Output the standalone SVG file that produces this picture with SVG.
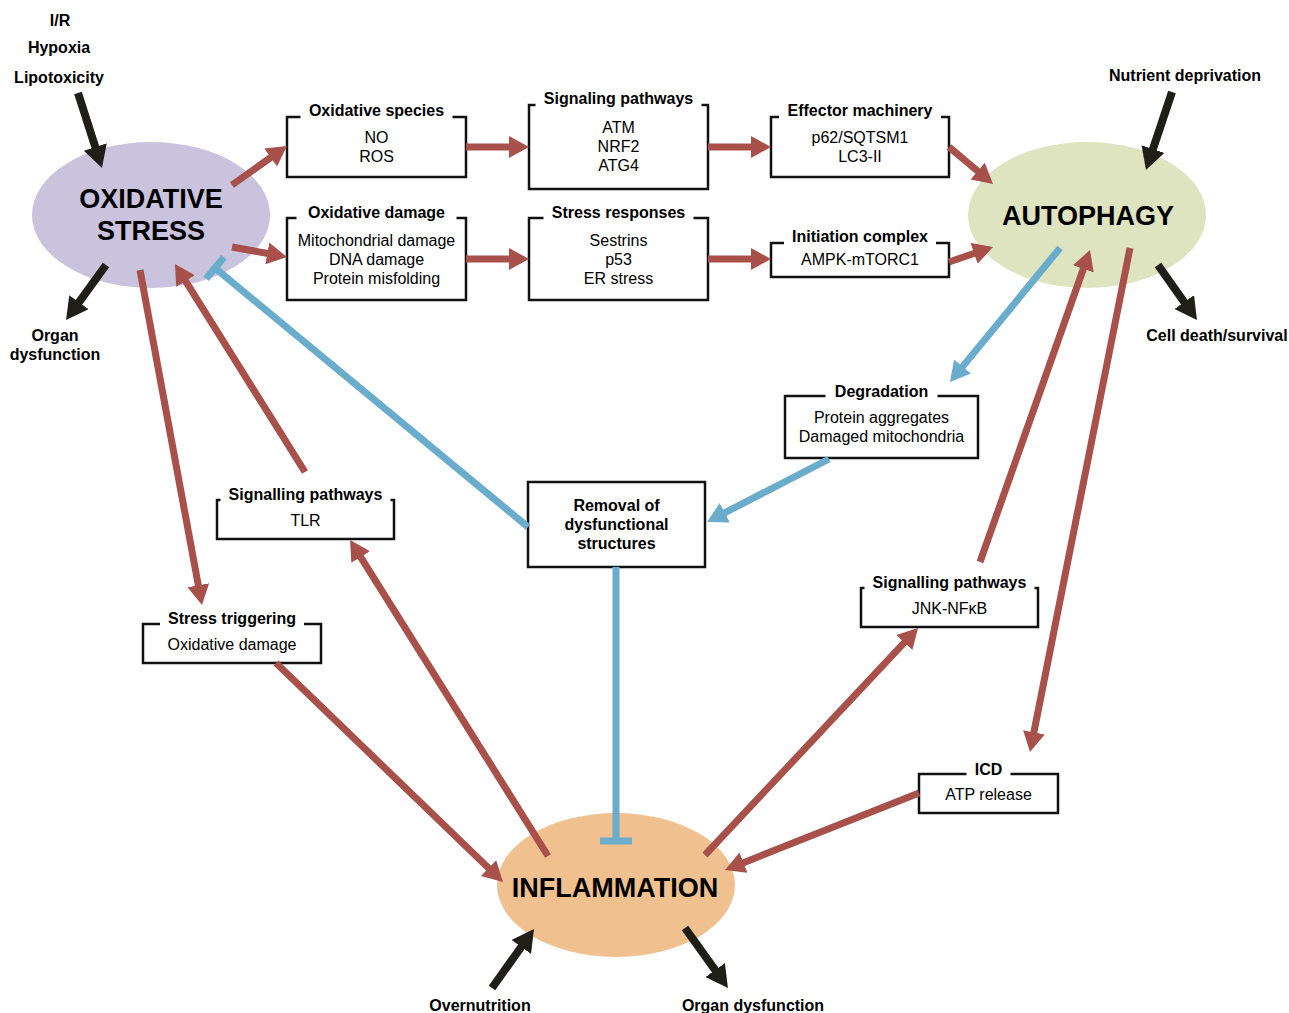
<svg xmlns="http://www.w3.org/2000/svg" width="1289" height="1013" viewBox="0 0 1289 1013">
<defs>
<style>
text{font-family:"Liberation Sans",Arial,sans-serif;fill:#000}
.t{font-size:16px;font-weight:bold;text-anchor:middle}
.b{font-size:16px;text-anchor:middle}
.big{font-size:27px;font-weight:bold;text-anchor:middle}
.lab{font-size:16px;font-weight:bold;text-anchor:middle}
.box{fill:none;stroke:#111;stroke-width:2.5}
.red{stroke:#a8504a;stroke-width:7;fill:none}
.blue{stroke:#6aaccb;stroke-width:7;fill:none}
.blk{stroke:#1f1f17;stroke-width:8;fill:none}
</style>
<marker id="hr" markerUnits="userSpaceOnUse" markerWidth="22" markerHeight="24" refX="2" refY="11" orient="auto"><path d="M0,0 L20,11 L0,22 z" fill="#a8504a"/></marker>
<marker id="hb" markerUnits="userSpaceOnUse" markerWidth="22" markerHeight="24" refX="2" refY="11" orient="auto"><path d="M0,0 L20,11 L0,22 z" fill="#6aaccb"/></marker>
<marker id="hk" markerUnits="userSpaceOnUse" markerWidth="24" markerHeight="26" refX="2" refY="12" orient="auto"><path d="M0,0 L22,12 L0,24 z" fill="#1f1f17"/></marker>
</defs>
<rect width="1289" height="1013" fill="#fff"/>

<g id="oxidative-stress"><ellipse cx="151" cy="215" rx="119" ry="73" fill="#c9c3de"/><text class="big" x="151" y="208">OXIDATIVE</text><text class="big" x="151" y="240">STRESS</text></g>
<g id="autophagy"><ellipse cx="1087" cy="215" rx="119" ry="73" fill="#dde4bf"/><text class="big" x="1088" y="225">AUTOPHAGY</text></g>
<g id="inflammation"><ellipse cx="616" cy="885" rx="119" ry="72" fill="#f0c08f"/><text class="big" x="615" y="897">INFLAMMATION</text></g>

<g id="inputs">
<text class="lab" x="60" y="26">I/R</text>
<text class="lab" x="59" y="53">Hypoxia</text>
<text class="lab" x="59" y="83">Lipotoxicity</text>
<text class="lab" x="55" y="341">Organ</text>
<text class="lab" x="55" y="360">dysfunction</text>
<text class="lab" x="1185" y="81">Nutrient deprivation</text>
<text class="lab" x="1217" y="341">Cell death/survival</text>
<text class="lab" x="480" y="1011">Overnutrition</text>
<text class="lab" x="753" y="1011">Organ dysfunction</text>
</g>

<g id="box-oxidative-species"><path class="box" d="M300.5 117 H287 V177 H466 V117 H452.5"/><text class="t" x="376.5" y="116">Oxidative species</text><text class="b" x="376.5" y="143">NO</text><text class="b" x="376.5" y="162">ROS</text></g>
<g id="box-signaling"><path class="box" d="M535.5 105 H529 V189 H708 V105 H701.5"/><text class="t" x="618.5" y="104">Signaling pathways</text><text class="b" x="618.5" y="133">ATM</text><text class="b" x="618.5" y="152">NRF2</text><text class="b" x="618.5" y="171">ATG4</text></g>
<g id="box-oxidative-damage"><path class="box" d="M296.5 218 H287 V300 H466 V218 H456.5"/><text class="t" x="376.5" y="218">Oxidative damage</text><text class="b" x="376.5" y="246">Mitochondrial damage</text><text class="b" x="376.5" y="265">DNA damage</text><text class="b" x="376.5" y="284">Protein misfolding</text></g>
<g id="box-stress-responses"><path class="box" d="M543.5 218 H529 V300 H708 V218 H693.5"/><text class="t" x="618.5" y="218">Stress responses</text><text class="b" x="618.5" y="246">Sestrins</text><text class="b" x="618.5" y="265">p53</text><text class="b" x="618.5" y="284">ER stress</text></g>
<g id="box-effector"><path class="box" d="M779 117 H771 V177 H949 V117 H941"/><text class="t" x="860" y="116">Effector machinery</text><text class="b" x="860" y="143">p62/SQTSM1</text><text class="b" x="860" y="162">LC3-II</text></g>
<g id="box-initiation"><path class="box" d="M784 243 H771 V277 H949 V243 H936"/><text class="t" x="860" y="242">Initiation complex</text><text class="b" x="860" y="265">AMPK-mTORC1</text></g>
<g id="box-degradation"><path class="box" d="M825.5 396 H785 V458 H978 V396 H937.5"/><text class="t" x="881.5" y="397">Degradation</text><text class="b" x="881.5" y="423">Protein aggregates</text><text class="b" x="881.5" y="442">Damaged mitochondria</text></g>
<g id="box-removal"><rect class="box" x="528" y="482" width="177" height="85"/><text class="t" x="616.5" y="511">Removal of</text><text class="t" x="616.5" y="530">dysfunctional</text><text class="t" x="616.5" y="549">structures</text></g>
<g id="box-tlr"><path class="box" d="M220.5 500 H217 V539 H394 V500 H390.5"/><text class="t" x="305.5" y="500">Signalling pathways</text><text class="b" x="305.5" y="526">TLR</text></g>
<g id="box-stress-triggering"><path class="box" d="M160 624 H143 V663 H321 V624 H304"/><text class="t" x="232" y="624">Stress triggering</text><text class="b" x="232" y="650">Oxidative damage</text></g>
<g id="box-jnk"><path class="box" d="M864.5 588 H861 V627 H1038 V588 H1034.5"/><text class="t" x="949.5" y="588">Signalling pathways</text><text class="b" x="949.5" y="614">JNK-NFκB</text></g>
<g id="box-icd"><path class="box" d="M966.5 774 H919 V813 H1058 V774 H1010.5"/><text class="t" x="988.5" y="775">ICD</text><text class="b" x="988.5" y="800">ATP release</text></g>

<g id="connectors">
<line class="red" x1="232" y1="185" x2="272.3" y2="156.4" marker-end="url(#hr)"/>
<line class="red" x1="232" y1="247" x2="269.3" y2="253.8" marker-end="url(#hr)"/>
<line class="red" x1="466" y1="147" x2="511" y2="147" marker-end="url(#hr)"/>
<line class="red" x1="466" y1="259" x2="511" y2="259" marker-end="url(#hr)"/>
<line class="red" x1="708" y1="147" x2="753" y2="147" marker-end="url(#hr)"/>
<line class="red" x1="708" y1="259" x2="753" y2="259" marker-end="url(#hr)"/>
<line class="red" x1="949" y1="147" x2="979.2" y2="172.4" marker-end="url(#hr)"/>
<line class="red" x1="949" y1="262" x2="976" y2="252.8" marker-end="url(#hr)"/>
<line class="red" x1="305" y1="472" x2="184.5" y2="279.3" marker-end="url(#hr)"/>
<line class="red" x1="140" y1="270" x2="198.7" y2="587.3" marker-end="url(#hr)"/>
<line class="red" x1="276" y1="663" x2="490" y2="869.5" marker-end="url(#hr)"/>
<line class="red" x1="548" y1="856" x2="359.6" y2="555.3" marker-end="url(#hr)"/>
<line class="red" x1="705" y1="855" x2="905.7" y2="641.1" marker-end="url(#hr)"/>
<line class="red" x1="980" y1="562" x2="1084" y2="267" marker-end="url(#hr)"/>
<line class="red" x1="1130" y1="248" x2="1033.5" y2="734.3" marker-end="url(#hr)"/>
<line class="red" x1="919" y1="793" x2="741.7" y2="863.4" marker-end="url(#hr)"/>
<line class="blue" x1="1060" y1="248" x2="961.4" y2="368.1" marker-end="url(#hb)"/>
<line class="blue" x1="829" y1="459" x2="723" y2="513.7" marker-end="url(#hb)"/>
<line class="blue" x1="528" y1="527" x2="215" y2="268"/>
<line class="blue" x1="223.9" y1="257.2" x2="206.1" y2="278.8"/>
<line class="blue" x1="616" y1="567" x2="616" y2="841"/>
<line class="blue" x1="600" y1="841" x2="632" y2="841"/>
<line class="blk" x1="78" y1="93" x2="95.9" y2="148.9" marker-end="url(#hk)"/>
<line class="blk" x1="106" y1="265" x2="77.8" y2="303.8" marker-end="url(#hk)"/>
<line class="blk" x1="1172" y1="92" x2="1152.3" y2="151" marker-end="url(#hk)"/>
<line class="blk" x1="1158" y1="265" x2="1185.4" y2="303.7" marker-end="url(#hk)"/>
<line class="blk" x1="492" y1="988" x2="522.4" y2="945.3" marker-end="url(#hk)"/>
<line class="blk" x1="685" y1="928" x2="716.3" y2="971.7" marker-end="url(#hk)"/>
</g>
</svg>
